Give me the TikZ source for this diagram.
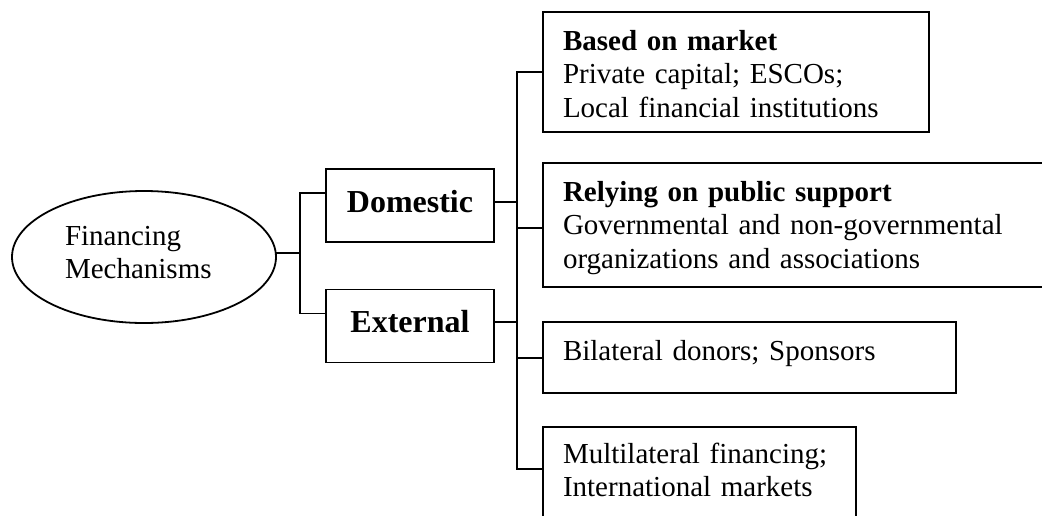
\documentclass[tikz,border=0pt]{standalone}
\usepackage{fontspec}
\setmainfont{Liberation Serif}
\usetikzlibrary{shapes.geometric,calc}
\begin{document}
\begin{tikzpicture}[x=1pt,y=-1pt,
  line width=1.8pt,
  bodyfont/.style={font=\fontsize{29}{33.5}\selectfont},
  mainbox/.style={draw, rectangle, inner sep=0pt, outer sep=0pt, minimum width=168pt,
    text height=43pt, text depth=30pt, font=\fontsize{32}{38}\selectfont\bfseries},
  optbox/.style={draw, rectangle, anchor=north west, inner xsep=20pt, inner ysep=0pt,
    outer sep=0pt, align=left, bodyfont},
  link/.style={line width=1.8pt}]
\clip (0,0) rectangle (1042,515);
\fill[white] (0,0) rectangle (1042,515);

% root
\node[ellipse, draw, minimum width=264pt, minimum height=132pt, inner sep=0pt, outer sep=0pt,
  align=left, text width=158pt, text height=20pt, text depth=44pt, bodyfont]
  (ell) at (144,257) {Financing\\Mechanisms};

% level 1
\node[mainbox] (dom) at (410,205.5) {Domestic};
\node[mainbox] (ext) at (410,326) {External};

% level 2
\node[optbox, text width=346pt, text height=38pt, text depth=82pt] (b1) at (543,12)
  {\textbf{Based on market}\\Private capital; ESCOs;\\Local financial institutions};
\node[optbox, text width=472pt, text height=38pt, text depth=86pt] (b2) at (543,163)
  {\textbf{Relying on public support}\\Governmental and non-governmental\\organizations and associations};
\node[optbox, text width=373pt, text height=38pt, text depth=33pt] (b3) at (543,322)
  {Bilateral donors; Sponsors};
\node[optbox, text width=273pt, text height=36pt, text depth=100pt] (b4) at (543,427)
  {Multilateral financing;\\International markets};

% connectors, left fork
\coordinate (j1) at (300,253);
\draw[link] ($(ell.east)+(0,-4)$) -- (j1);
\draw[link] ($(dom.north west)+(0,24)$) -| (j1) |- ($(ext.north west)+(0,24)$);

% connectors, right fork
\draw[link] (b1.west) -| ($(b4.north west)+(-26,42)$) -- ($(b4.north west)+(0,42)$);
\draw[link] ($(dom.east)+(0,-3.5)$) -- ++(23,0);
\draw[link] ($(ext.east)+(0,-4)$) -- ++(23,0);
\draw[link] ($(b2.west)+(0,3)$) -- ++(-26,0);
\draw[link] ($(b3.west)+(0,0.5)$) -- ++(-26,0);
\end{tikzpicture}
\end{document}
